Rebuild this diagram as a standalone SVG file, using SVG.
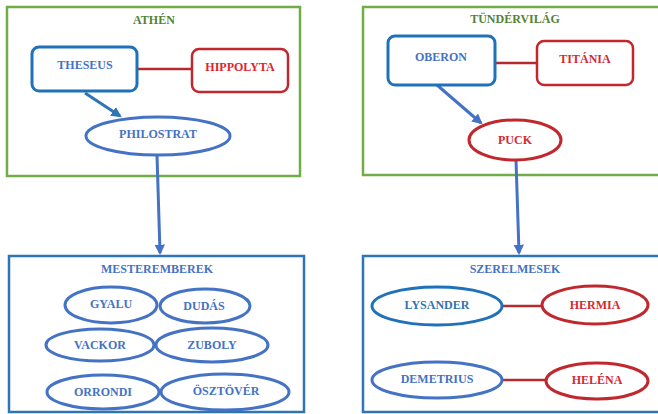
<svg xmlns="http://www.w3.org/2000/svg" width="658" height="414" viewBox="0 0 658 414" font-family="'Liberation Serif', 'DejaVu Serif', serif">
<defs>
<style>
text{font-family:'Liberation Serif','Times New Roman','DejaVu Serif',serif;font-weight:700;font-size:12px;text-anchor:middle;dominant-baseline:central}
.grp{fill:#fff;stroke-width:2.5}
.green{stroke:#70AD47}
.bluebox{stroke:#2E75B6}
.tg{fill:#548235}
.tb{fill:#4472C4}
.tr{fill:#D42A30}
.rb{fill:#fff;stroke:#1F72BA;stroke-width:3}
.rr{fill:#fff;stroke:#C0282D;stroke-width:2.5}
.eb{fill:#fff;stroke:#4472C4;stroke-width:3}
.eb2{fill:#fff;stroke:#1F72BA;stroke-width:3}
.er{fill:#fff;stroke:#C0282D;stroke-width:3}
.link{stroke:#B52A2E;stroke-width:2.5;fill:none}
.arr{stroke:#4472C4;stroke-width:3;fill:none;marker-end:url(#ah)}
.arr2{stroke:#2E75B6;stroke-width:3;fill:none;marker-end:url(#ah2)}
</style>
<marker id="ah" viewBox="0 0 10 10" refX="8" refY="5" markerWidth="3.5" markerHeight="3.5" orient="auto" markerUnits="strokeWidth"><path d="M0,0 L10,5 L0,10 z" fill="#4472C4"/></marker>
<marker id="ah2" viewBox="0 0 10 10" refX="8" refY="5" markerWidth="3.5" markerHeight="3.5" orient="auto" markerUnits="strokeWidth"><path d="M0,0 L10,5 L0,10 z" fill="#2E75B6"/></marker>
</defs>
<rect width="658" height="414" fill="#fff"/>

<g id="athen">
<rect class="grp green" x="7" y="7" width="293" height="169"/>
<text class="tg" x="154" y="20">ATHÉN</text>
</g>
<g id="tundervilag">
<rect class="grp green" x="363" y="7" width="300" height="168"/>
<text class="tg" x="515" y="19">TÜNDÉRVILÁG</text>
</g>
<g id="mesteremberek">
<rect class="grp bluebox" x="9" y="256" width="295" height="156"/>
<text class="tb" x="157" y="269">MESTEREMBEREK</text>
</g>
<g id="szerelmesek">
<rect class="grp bluebox" x="363" y="256" width="300" height="156"/>
<text class="tb" x="515" y="269">SZERELMESEK</text>
</g>

<g id="connectors">
<line class="link" x1="137" y1="69" x2="192" y2="69"/>
<line class="link" x1="495" y1="63" x2="537" y2="63"/>
<line class="link" x1="503" y1="306" x2="542" y2="306"/>
<line class="link" x1="503" y1="380" x2="546" y2="380"/>
<line class="arr2" x1="85" y1="93" x2="120" y2="116"/>
<line class="arr" x1="437" y1="85" x2="481" y2="123"/>
<line class="arr" x1="157" y1="155" x2="160" y2="253"/>
<line class="arr" x1="516" y1="160" x2="519" y2="253"/>
</g>

<g id="theseus">
<rect class="rb" x="32" y="47" width="105" height="44" rx="7"/>
<text class="tb" x="85" y="65">THESEUS</text>
</g>
<g id="hippolyta">
<rect class="rr" x="192" y="49" width="96" height="43" rx="7"/>
<text class="tr" x="240" y="67" style="fill:#E0242B">HIPPOLYTA</text>
</g>
<g id="philostrat">
<ellipse class="eb" cx="158" cy="136" rx="72" ry="19"/>
<text class="tb" x="158" y="134">PHILOSTRAT</text>
</g>
<g id="oberon">
<rect class="rb" x="388" y="36" width="107" height="49" rx="7"/>
<text class="tb" x="441" y="57">OBERON</text>
</g>
<g id="titania">
<rect class="rr" x="537" y="41" width="96" height="44" rx="7"/>
<text class="tr" x="585" y="59">TITÁNIA</text>
</g>
<g id="puck">
<ellipse class="er" cx="515" cy="140" rx="46" ry="20"/>
<text class="tr" x="515" y="140">PUCK</text>
</g>

<g id="gyalu">
<ellipse class="eb" cx="111" cy="305" rx="46" ry="18"/>
<text class="tb" x="111" y="304">GYALU</text>
</g>
<g id="dudas">
<ellipse class="eb" cx="205" cy="306" rx="45" ry="17"/>
<text class="tb" x="204" y="306">DUDÁS</text>
</g>
<g id="vackor">
<ellipse class="eb" cx="100" cy="345" rx="54" ry="16"/>
<text class="tb" x="100" y="345">VACKOR</text>
</g>
<g id="zuboly">
<ellipse class="eb" cx="212" cy="345" rx="56" ry="17"/>
<text class="tb" x="212" y="345">ZUBOLY</text>
</g>
<g id="orrondi">
<ellipse class="eb" cx="103" cy="392" rx="56" ry="17"/>
<text class="tb" x="103" y="392">ORRONDI</text>
</g>
<g id="osztover">
<ellipse class="eb" cx="225" cy="392" rx="64" ry="18"/>
<text class="tb" x="226" y="391">ÖSZTÖVÉR</text>
</g>

<g id="lysander">
<ellipse class="eb2" cx="437" cy="306" rx="65" ry="19"/>
<text class="tb" x="437" y="305" style="fill:#2E75B6">LYSANDER</text>
</g>
<g id="hermia">
<ellipse class="er" cx="595" cy="305" rx="53" ry="19"/>
<text class="tr" x="595" y="305">HERMIA</text>
</g>
<g id="demetrius">
<ellipse class="eb" cx="437" cy="380" rx="65" ry="18"/>
<text class="tb" x="437" y="379">DEMETRIUS</text>
</g>
<g id="helena">
<ellipse class="er" cx="597" cy="381" rx="51" ry="18"/>
<text class="tr" x="597" y="380">HELÉNA</text>
</g>
</svg>
